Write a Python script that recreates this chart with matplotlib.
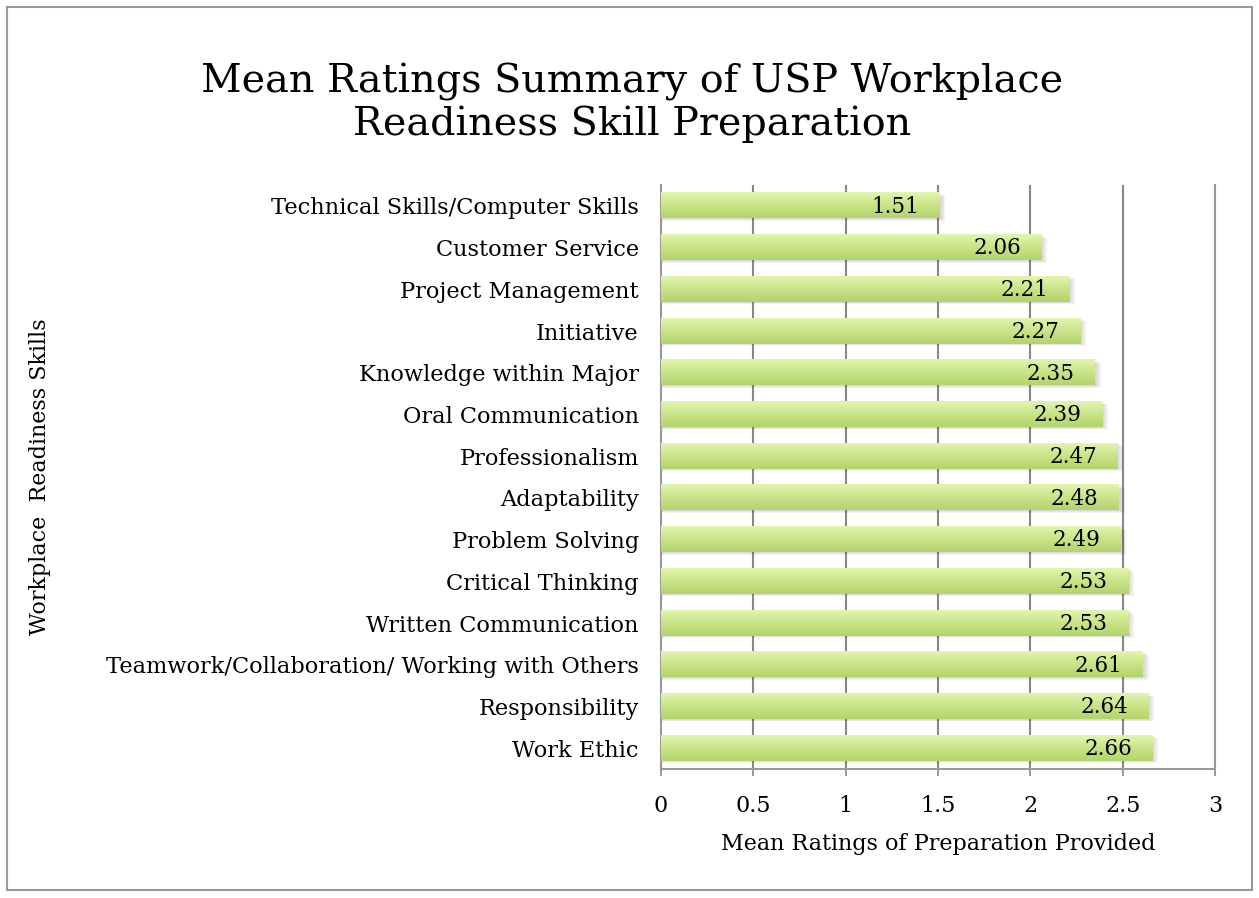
import matplotlib
matplotlib.use("Agg")
import matplotlib.pyplot as plt
import numpy as np
from matplotlib.colors import LinearSegmentedColormap
from matplotlib.patches import Rectangle

skills = ["Technical Skills/Computer Skills", "Customer Service", "Project Management",
          "Initiative", "Knowledge within Major", "Oral Communication", "Professionalism",
          "Adaptability", "Problem Solving", "Critical Thinking", "Written Communication",
          "Teamwork/Collaboration/ Working with Others", "Responsibility", "Work Ethic"]
means = [1.51, 2.06, 2.21, 2.27, 2.35, 2.39, 2.47, 2.48, 2.49, 2.53, 2.53, 2.61, 2.64, 2.66]
xticks = [0, 0.5, 1, 1.5, 2, 2.5, 3]
xtick_labels = ["0", "0.5", "1", "1.5", "2", "2.5", "3"]

FONT = "DejaVu Serif"
plt.rcParams['font.family'] = [FONT]

fig = plt.figure(figsize=(12.59, 8.98), dpi=100)
ax = fig.add_axes([661/1259, 1 - 769/898, (1215-661)/1259, (769-185)/898])

n = len(skills)
ypos = np.arange(n)[::-1]  # first category at top
h = 0.6
cmap = LinearSegmentedColormap.from_list("g", ["#b2d46c", "#c9e488", "#e2f5ae"])
grad = np.linspace(0, 1, 64).reshape(-1, 1)

ax.set_xlim(0, 3)
ax.set_ylim(-0.5, n - 0.5)

for y, v in zip(ypos, means):
    # soft shadow
    for k, a in enumerate([0.05, 0.05, 0.05]):
        d = 0.02 * (k + 1)
        ax.add_patch(Rectangle((0.0, y - h/2 - d), v + d * 0.5, h, facecolor="#000000",
                               alpha=a, edgecolor="none", zorder=2))
    ax.imshow(grad, extent=[0, v, y - h/2, y + h/2], origin="lower", cmap=cmap,
              aspect="auto", zorder=3, interpolation="bilinear")
    ax.text(v - 0.11, y - 0.02, f"{v:.2f}", ha="right", va="center", fontsize=15.5,
            color="black", zorder=4)

ax.set_aspect("auto")
ax.set_xlim(0, 3)
ax.set_ylim(-0.5, n - 0.5)
ax.set_yticks(ypos)
ax.set_yticklabels(skills, fontsize=16.2)
ax.set_xticks(xticks)
ax.set_xticklabels(xtick_labels, fontsize=16)
ax.tick_params(axis="y", length=0, pad=16)
ax.tick_params(axis="x", length=5, color="#888888", width=1.2, pad=14)
ax.grid(axis="x", color="#888888", linewidth=1.5, zorder=1)
ax.set_axisbelow(True)
for s in ["left", "bottom", "right"]:
    ax.spines[s].set_color("#999999")
    ax.spines[s].set_linewidth(1.5)
ax.spines["top"].set_visible(False)

ax.set_xlabel("Mean Ratings of Preparation Provided", fontsize=16, labelpad=11)

fig.text(40/1259, 1 - 477/898, "Workplace  Readiness Skills", rotation=90,
         ha="center", va="center", fontsize=16)
fig.text(632/1259, 1 - 103/898, "Mean Ratings Summary of USP Workplace\nReadiness Skill Preparation",
         ha="center", va="center", fontsize=28.5, linespacing=1.18)

fig.patches.append(Rectangle((7/1259, 1 - 890/898), (1252-7)/1259, (890-7)/898,
                             transform=fig.transFigure, fill=False, edgecolor="#999999",
                             linewidth=1.5))

fig.savefig("out.png", dpi=100)
